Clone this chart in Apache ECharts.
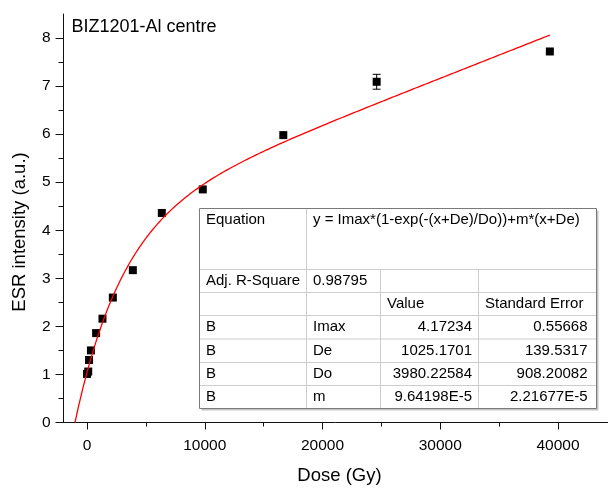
<!DOCTYPE html>
<html>
<head>
<meta charset="utf-8">
<title>BIZ1201-Al centre</title>
<script src="https://cdn.jsdelivr.net/npm/echarts@6/dist/echarts.min.js"></script>
<style>
  html, body { margin: 0; padding: 0; background: #fff; }
  #chart { width: 608px; height: 488px; }
</style>
</head>
<body>
<div id="chart"></div>
<script>
// Measured ESR intensity against absorbed dose
const doses = [0, 100, 170, 330, 770, 1310, 2190, 3890, 6350, 9830, 16670, 24600, 39310];
const esr = [1.01, 1.06, 1.30, 1.50, 1.86, 2.16, 2.60, 3.17, 4.36, 4.85, 5.98, 7.09, 7.72];
const esrErr = [0, 0, 0, 0, 0, 0, 0, 0, 0, 0, 0, 0.155, 0];

// Axis ticks
const xMajorTicks = [0, 10000, 20000, 30000, 40000];
const xMinorTicks = [5000, 15000, 25000, 35000];
const yMajorTicks = [0, 1, 2, 3, 4, 5, 6, 7, 8];
const yMinorTicks = [0.5, 1.5, 2.5, 3.5, 4.5, 5.5, 6.5, 7.5];

// Fit results: y = Imax*(1-exp(-(x+De)/Do))+m*(x+De)
const fitEquation = 'y = Imax*(1-exp(-(x+De)/Do))+m*(x+De)';
const adjRSquare = '0.98795';
const paramNames = ['Imax', 'De', 'Do', 'm'];
const paramValues = ['4.17234', '1025.1701', '3980.22584', '9.64198E-5'];
const paramErrors = ['0.55668', '139.5317', '908.20082', '2.21677E-5'];

const FONT = '"Liberation Sans", Arial, Helvetica, sans-serif';

// Fitted curve evaluated from the fit parameters, from its zero crossing to the last dose
const [Imax, De, Do, m] = paramValues.map(Number);
function fitModel(x) {
  return Imax * (1 - Math.exp(-(x + De) / Do)) + m * (x + De);
}
const fitCurve = [];
const xStart = -De, xEnd = doses[doses.length - 1], steps = 400;
for (let i = 0; i <= steps; i++) {
  const x = xStart + (xEnd - xStart) * i / steps;
  fitCurve.push([x, fitModel(x)]);
}

const points = doses.map((d, i) => [d, esr[i]]);
const errData = doses.map((d, i) => [d, esr[i], esrErr[i]]);

// Results table drawn as graphic elements
const colX = [199.5, 306.5, 380.5, 478.5, 596.5];
const rowY = [208.5, 269.5, 292.5, 315.5, 339, 362.5, 385.5, 408.5];
const innerStroke = '#cdcdcd';
const pad = 6.5;

function txt(text, x, y, align, vAlign) {
  return {
    type: 'text', x: x, y: y, silent: true,
    style: { text: text, fill: '#000', fontSize: 15, fontFamily: FONT,
             align: align || 'left', verticalAlign: vAlign || 'middle' }
  };
}
function hline(y, x1, x2, color) {
  return { type: 'line', silent: true,
    shape: { x1: x1, y1: y, x2: x2, y2: y },
    style: { stroke: color, lineWidth: 1 } };
}
function vline(x, y1, y2, color) {
  return { type: 'line', silent: true,
    shape: { x1: x, y1: y1, x2: x, y2: y2 },
    style: { stroke: color, lineWidth: 1 } };
}

const tableEls = [];
const tw = colX[4] - colX[0], th = rowY[7] - rowY[0];
tableEls.push({ type: 'rect', silent: true,
  shape: { x: colX[0] + 2, y: rowY[0] + 2, width: tw, height: th },
  style: { fill: '#c4c4c4' } });
tableEls.push({ type: 'rect', silent: true,
  shape: { x: colX[0], y: rowY[0], width: tw, height: th },
  style: { fill: '#fff' } });
for (let r = 1; r < rowY.length - 1; r++) tableEls.push(hline(rowY[r], colX[0], colX[4], innerStroke));
tableEls.push(vline(colX[1], rowY[0], rowY[7], innerStroke));
tableEls.push(vline(colX[2], rowY[1], rowY[7], innerStroke));
tableEls.push(vline(colX[3], rowY[1], rowY[7], innerStroke));
tableEls.push({ type: 'rect', silent: true,
  shape: { x: colX[0], y: rowY[0], width: tw, height: th },
  style: { fill: 'none', stroke: '#7a7a7a', lineWidth: 1 } });

const mid = r => (rowY[r] + rowY[r + 1]) / 2;
tableEls.push(txt('Equation', colX[0] + pad, 219.5));
tableEls.push(txt(fitEquation, colX[1] + pad, 219.5));
tableEls.push(txt('Adj. R-Square', colX[0] + pad, mid(1)));
tableEls.push(txt(adjRSquare, colX[1] + pad, mid(1)));
tableEls.push(txt('Value', colX[2] + pad, mid(2)));
tableEls.push(txt('Standard Error', colX[3] + pad, mid(2)));
paramNames.forEach((name, i) => {
  const r = 3 + i;
  tableEls.push(txt('B', colX[0] + pad, mid(r)));
  tableEls.push(txt(name, colX[1] + pad, mid(r)));
  tableEls.push(txt(paramValues[i], colX[3] - pad, mid(r), 'right'));
  tableEls.push(txt(paramErrors[i], colX[4] - 9, mid(r), 'right'));
});

const chart = echarts.init(document.getElementById('chart'), null, { renderer: 'canvas' });

const axisColor = '#111';
const plainNumber = v => String(v);
const option = {
  animation: false,
  backgroundColor: '#fff',
  grid: { left: 63.5, right: 0, top: 14, bottom: 65.5, containLabel: false, outerBoundsMode: 'none' },
  xAxis: [
    {
      type: 'value', min: -2000, max: 44250,
      axisLine: { show: true, onZero: false, lineStyle: { color: axisColor, width: 1 } },
      axisTick: { show: true, customValues: xMajorTicks, length: 7, lineStyle: { color: axisColor } },
      axisLabel: { customValues: xMajorTicks, formatter: plainNumber, margin: 15,
                   color: '#000', fontSize: 15.5, fontFamily: FONT },
      splitLine: { show: false }
    },
    {
      type: 'value', min: -2000, max: 44250, position: 'bottom',
      axisLine: { show: false, onZero: false },
      axisTick: { show: true, customValues: xMinorTicks, length: 4, lineStyle: { color: axisColor } },
      axisLabel: { show: false },
      splitLine: { show: false }
    }
  ],
  yAxis: [
    {
      type: 'value', min: 0, max: 8.5,
      axisLine: { show: true, onZero: false, lineStyle: { color: axisColor, width: 1 } },
      axisTick: { show: true, customValues: yMajorTicks, length: 8, lineStyle: { color: axisColor } },
      axisLabel: { customValues: yMajorTicks, formatter: plainNumber, margin: 13,
                   color: '#000', fontSize: 15.5, fontFamily: FONT },
      splitLine: { show: false }
    },
    {
      type: 'value', min: 0, max: 8.5, position: 'left',
      axisLine: { show: false, onZero: false },
      axisTick: { show: true, customValues: yMinorTicks, length: 5, lineStyle: { color: axisColor } },
      axisLabel: { show: false },
      splitLine: { show: false }
    }
  ],
  series: [
    {
      name: 'ESR', type: 'scatter', data: points,
      symbol: 'rect', symbolSize: 8,
      itemStyle: { color: '#000', opacity: 1 }
    },
    {
      name: 'Error', type: 'custom', data: errData,
      renderItem: function (params, api) {
        const err = api.value(2);
        if (!err) return null;
        const x = api.value(0), y = api.value(1);
        const top = api.coord([x, y + err]);
        const bot = api.coord([x, y - err]);
        const hw = 4;
        const st = { stroke: '#000', lineWidth: 1 };
        return { type: 'group', children: [
          { type: 'line', shape: { x1: top[0], y1: top[1], x2: bot[0], y2: bot[1] }, style: st },
          { type: 'line', shape: { x1: top[0] - hw, y1: top[1], x2: top[0] + hw, y2: top[1] }, style: st },
          { type: 'line', shape: { x1: bot[0] - hw, y1: bot[1], x2: bot[0] + hw, y2: bot[1] }, style: st }
        ] };
      }
    },
    {
      name: 'Fit', type: 'line', data: fitCurve,
      showSymbol: false, symbol: 'none', smooth: false, clip: true,
      lineStyle: { color: '#ff0000', width: 1.3 }
    }
  ],
  graphic: [
    { type: 'group', children: tableEls },
    { type: 'text', x: 71.5, y: 27.5, silent: true,
      style: { text: 'BIZ1201-Al centre', fill: '#000', fontSize: 18, fontFamily: FONT,
               align: 'left', verticalAlign: 'middle' } },
    { type: 'text', x: 20, y: 232, rotation: Math.PI / 2, silent: true,
      style: { text: 'ESR intensity (a.u.)', fill: '#000', fontSize: 18.5, fontFamily: FONT,
               align: 'center', verticalAlign: 'middle' } },
    { type: 'text', x: 339.5, y: 476, silent: true,
      style: { text: 'Dose (Gy)', fill: '#000', fontSize: 18.5, fontFamily: FONT,
               align: 'center', verticalAlign: 'middle' } }
  ]
};
chart.setOption(option);
</script>
</body>
</html>
